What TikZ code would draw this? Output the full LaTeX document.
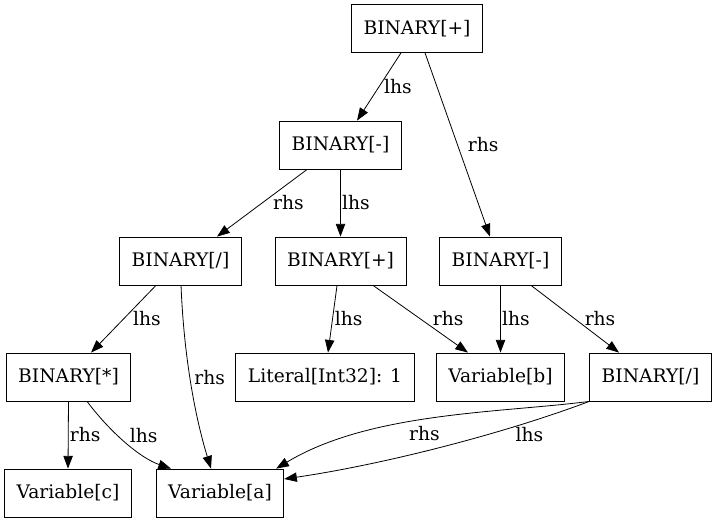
\documentclass[tikz,border=0pt]{standalone}
\usepackage{fontspec}
\setmainfont{DejaVu Serif}
\usetikzlibrary{arrows.meta}

\begin{document}
\begin{tikzpicture}[x=0.75pt,y=-0.75pt,->,>={Triangle[length=9.5pt,width=7pt]},
                    semithick,font=\fontsize{14}{17}\selectfont]

  \tikzstyle{ast}=[rectangle,draw,minimum height=36pt,inner xsep=9pt]
  \tikzstyle{lbl}=[anchor=west,inner sep=1pt]

  \useasboundingbox (0,0) rectangle (717,523);

  \node[ast] (top)  at (417,28.5)   {BINARY[+]};
  \node[ast] (sub1) at (340.5,145)  {BINARY[-]};
  \node[ast] (div1) at (180.5,261)  {BINARY[/]};
  \node[ast] (add2) at (340.5,261)  {BINARY[+]};
  \node[ast] (sub2) at (500.5,261)  {BINARY[-]};
  \node[ast] (mul)  at (68.5,377)   {BINARY[*]};
  \node[ast] (lit)  at (325,377)    {Literal[Int32]: 1};
  \node[ast] (varb) at (500.5,377)  {Variable[b]};
  \node[ast] (div2) at (650.5,377)  {BINARY[/]};
  \node[ast] (varc) at (68,493)     {Variable[c]};
  \node[ast] (vara) at (220,493)    {Variable[a]};

  \path ([xshift=-12pt]top.south)    edge node[lbl,xshift=2.5pt] {lhs} ([xshift=12.4pt]sub1.north)
        ([xshift=6pt]top.south)      edge node[lbl,xshift=6.5pt] {rhs} ([xshift=-7.9pt]sub2.north)
        ([xshift=-25pt]sub1.south)   edge node[lbl,xshift=7pt]   {rhs} ([xshift=27.4pt]div1.north)
        (sub1.south)                 edge node[lbl]              {lhs} (add2.north)
        ([xshift=-18.4pt]div1.south) edge node[lbl,xshift=6pt]   {lhs} ([xshift=16.9pt]mul.north)
        ([xshift=-2.6pt]add2.south)  edge node[lbl,xshift=0.5pt] {lhs} ([xshift=2.25pt]lit.north)
        ([xshift=24.4pt]add2.south)  edge node[lbl,xshift=8pt]   {rhs} ([xshift=-24.4pt]varb.north)
        (sub2.south)                 edge node[lbl]              {lhs} (varb.north)
        ([xshift=22.9pt]sub2.south)  edge node[lbl,xshift=6pt]   {rhs} ([xshift=-23.6pt]div2.north)
        (mul.south)                  edge node[lbl]              {rhs} (varc.north);

  % curved edges into Variable[a]
  \draw ([xshift=0.4pt]div1.south) .. controls (184,360) and (196,420) ..
        node[lbl,pos=0.45,xshift=2pt] {rhs} ([xshift=-6.75pt]vara.north);
  \draw ([xshift=13.9pt]mul.south) .. controls (110,432) and (140,458) ..
        node[lbl,pos=0.4,xshift=8pt] {lhs} ([xshift=-36.75pt]vara.north);
  \draw (div2.south west) .. controls (500,413) and (370,412) ..
        node[lbl,anchor=north,pos=0.53,yshift=-4pt] {rhs} ([xshift=-6pt]vara.north east);
  \draw (div2.south west) .. controls (500,435) and (380,465) ..
        node[lbl,anchor=north,pos=0.21,yshift=-2.5pt] {lhs} ([yshift=10.5pt]vara.east);
\end{tikzpicture}
\end{document}
